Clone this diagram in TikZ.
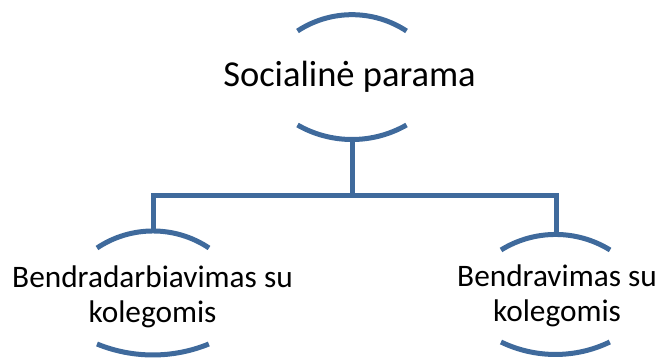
\documentclass[tikz,border=0pt]{standalone}
\usepackage{fontspec}
\setmainfont{Carlito}
\definecolor{arcblue}{RGB}{63,106,156}
\usetikzlibrary{positioning}

\begin{document}
\begin{tikzpicture}[
      x=1pt,y=1pt,
      label/.style={align=center,inner sep=0pt,text=black},
      bracket/.style={draw=arcblue,line width=5pt},
      link/.style={draw=arcblue,line width=5pt}
    ]
    \useasboundingbox (0,0) rectangle (658,358);

    % text
    \node[label,font=\fontsize{36.5}{42}\selectfont,anchor=base] (soc) at (349.5,271) {Socialinė parama};
    \node[label,font=\fontsize{31.3}{35}\selectfont,anchor=base] (collab) at (152.5,35) {Bendradarbiavimas su\\kolegomis};
    \node[label,font=\fontsize{31.3}{35}\selectfont,anchor=base] (comm) at (557,36) {Bendravimas su\\kolegomis};

    % arcs round the texts
    \draw[bracket] (297.5,327) arc[start angle=123.3,end angle=56.7,radius=99.3];
    \draw[bracket] (297.5,233) arc[start angle=240.2,end angle=299.8,radius=109.7];
    \draw[bracket] (97,110) arc[start angle=123.8,end angle=56.2,radius=100.7];
    \draw[bracket] (97,14) arc[start angle=247.8,end angle=292.2,radius=148];
    \draw[bracket] (501,108) arc[start angle=121.8,end angle=58.2,radius=103.5];
    \draw[bracket] (501,16) arc[start angle=244.2,end angle=295.8,radius=125];

    \coordinate (soc-s) at (352,218.5);
    \coordinate (collab-n) at (153,127);
    \coordinate (comm-n) at (556,123.5);
    \coordinate (bus) at (352,162);

    % connectors
    \draw[link] (soc-s) -- (bus);
    \draw[link] (collab-n) |- (bus) -| (comm-n);
  \end{tikzpicture}
\end{document}
